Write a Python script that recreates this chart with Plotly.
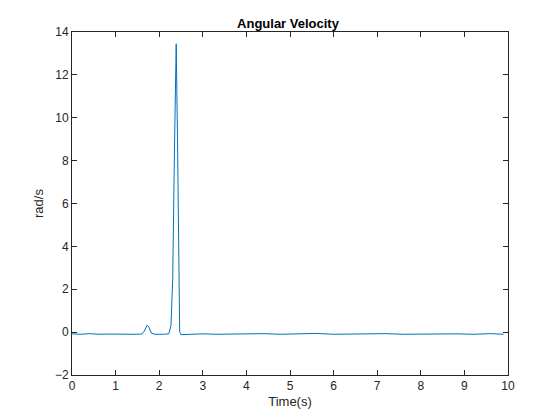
import plotly.graph_objects as go

time_s = [0.0, 0.2, 0.4, 0.6, 0.8, 1.0, 1.2, 1.4, 1.6, 1.66, 1.72, 1.76, 1.82, 1.9, 2.1, 2.22, 2.27, 2.31, 2.35, 2.39, 2.42, 2.45, 2.47, 2.5,
          2.7, 3.0, 3.3, 3.6, 4.0, 4.4, 4.8, 5.2, 5.6, 6.0, 6.4, 6.8, 7.2, 7.6, 8.0, 8.4, 8.8, 9.2, 9.6, 9.9]
omega = [-0.08, -0.1, -0.07, -0.1, -0.09, -0.1, -0.08, -0.1, -0.09, 0.05, 0.32, 0.25, -0.05, -0.1, -0.1, -0.08, 0.3, 2.5, 8.5, 13.45, 9.0, 3.0, 0.0, -0.12,
         -0.1, -0.08, -0.1, -0.09, -0.1, -0.07, -0.1, -0.09, -0.06, -0.1, -0.09, -0.1, -0.07, -0.1, -0.09, -0.1, -0.08, -0.1, -0.07, -0.1]

fig = go.Figure(go.Scatter(x=time_s, y=omega, mode="lines", line=dict(color="#0072BD", width=1)))
ax = dict(showgrid=False, zeroline=False, showline=True, mirror="ticks", linecolor="#262626", linewidth=1,
          ticks="inside", ticklen=5, tickcolor="#262626", tickfont=dict(family="Arial", size=12, color="#262626"))
fig.update_layout(
    width=560, height=420, plot_bgcolor="white", paper_bgcolor="white",
    margin=dict(l=64, r=60, t=24, b=53), showlegend=False,
    title=dict(text="<b>Angular Velocity</b>", x=0.5, xanchor="center", y=0.975, font=dict(family="Arial", size=13, color="black")),
    xaxis=dict(**ax, range=[0, 10], dtick=1, title=dict(text="Time(s)", standoff=4, font=dict(family="Arial", size=13, color="#262626"))),
    yaxis=dict(**ax, range=[-2, 14], dtick=2, title=dict(text="rad/s", standoff=8, font=dict(family="Arial", size=13, color="#262626"))),
)
fig.write_html("out.html")
